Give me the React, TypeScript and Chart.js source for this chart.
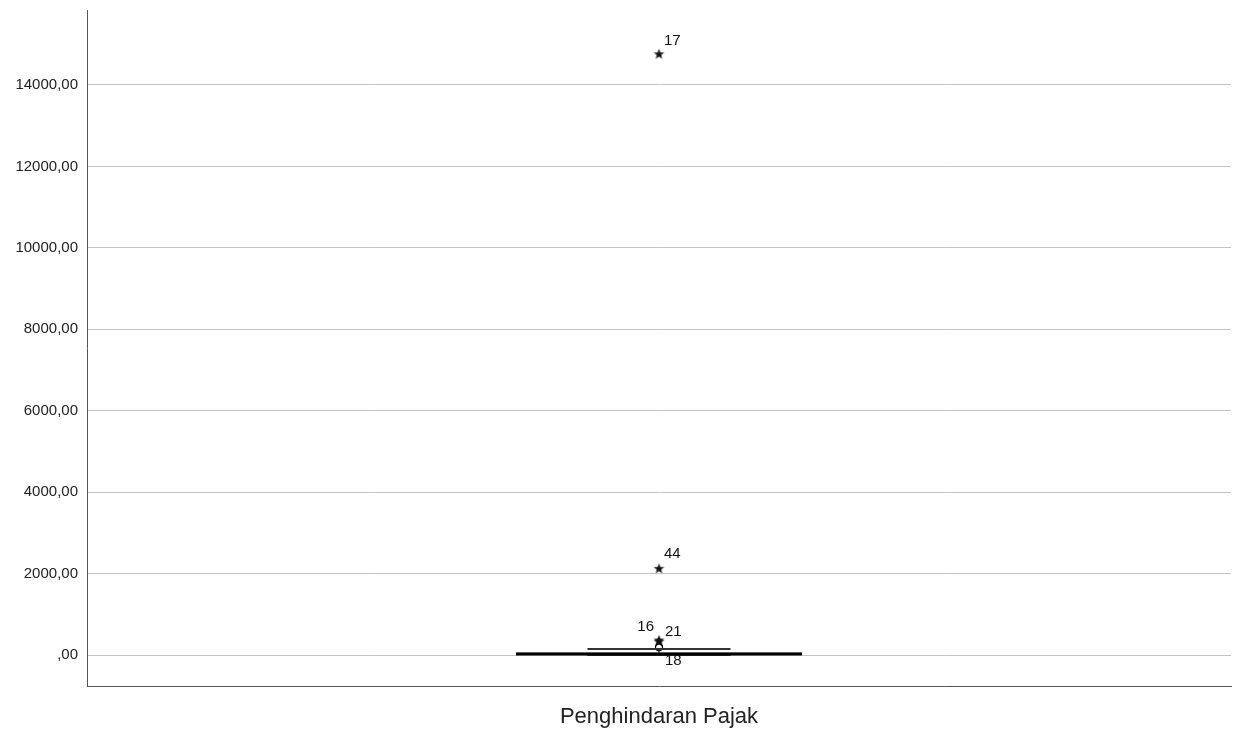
import React, { useEffect, useRef } from "react";
import { Chart, registerables } from "chart.js";

Chart.register(...registerables);

const categories = ["Penghindaran Pajak"];
const boxQ1 = [5];
const boxMedian = [25];
const boxQ3 = [60];
const whiskerLow = [0];
const whiskerHigh = [150];
const extremeValues = [14765, 2130, 370, 340];
const extremeIds = ["17", "44", "21", "16"];
const outlierValues = [190];
const outlierIds = ["18"];
const yTicks = [0, 2000, 4000, 6000, 8000, 10000, 12000, 14000];
const yMin = -760;
const yMax = 15840;

// label placement relative to the marker: [dx, dy, align]
const labelPlacement: Record<string, [number, number, CanvasTextAlign]> = {
  "17": [5, -13, "left"],
  "44": [5, -14, "left"],
  "21": [6, -8, "left"],
  "16": [-5, -14, "right"],
  "18": [6, 14, "left"],
};

const FONT = "'Liberation Sans', Arial, sans-serif";

function makeStar(): HTMLCanvasElement {
  const size = 13;
  const c = document.createElement("canvas");
  c.width = size;
  c.height = size;
  const g = c.getContext("2d")!;
  const cx = size / 2;
  const cy = size / 2 + 0.5;
  const outer = 5.6;
  const inner = 2.3;
  g.beginPath();
  for (let k = 0; k < 10; k++) {
    const r = k % 2 === 0 ? outer : inner;
    const a = -Math.PI / 2 + (k * Math.PI) / 5;
    const px = cx + r * Math.cos(a);
    const py = cy + r * Math.sin(a);
    if (k === 0) g.moveTo(px, py);
    else g.lineTo(px, py);
  }
  g.closePath();
  g.fillStyle = "#111";
  g.fill();
  return c;
}

const boxPlugin = {
  id: "boxExtras",
  afterDatasetsDraw(chart: any) {
    const ctx = chart.ctx;
    const y = chart.scales.y;
    const boxMeta = chart.getDatasetMeta(0);
    categories.forEach((_, i) => {
      const bar = boxMeta.data[i];
      if (!bar) return;
      const cx = bar.x;
      const halfW = bar.width / 2;
      const capHalf = halfW / 2;
      ctx.save();
      ctx.strokeStyle = "#000";
      ctx.lineWidth = 1;
      ctx.beginPath();
      ctx.moveTo(cx, y.getPixelForValue(boxQ3[i]));
      ctx.lineTo(cx, y.getPixelForValue(whiskerHigh[i]));
      ctx.moveTo(cx, y.getPixelForValue(boxQ1[i]));
      ctx.lineTo(cx, y.getPixelForValue(whiskerLow[i]));
      ctx.stroke();
      ctx.lineWidth = 2;
      ctx.strokeStyle = "#333";
      ctx.beginPath();
      ctx.moveTo(cx - capHalf, y.getPixelForValue(whiskerHigh[i]));
      ctx.lineTo(cx + capHalf, y.getPixelForValue(whiskerHigh[i]));
      ctx.moveTo(cx - capHalf, y.getPixelForValue(whiskerLow[i]));
      ctx.lineTo(cx + capHalf, y.getPixelForValue(whiskerLow[i]));
      ctx.stroke();
      ctx.lineWidth = 3;
      ctx.strokeStyle = "#000";
      ctx.beginPath();
      ctx.moveTo(cx - halfW, y.getPixelForValue(boxMedian[i]));
      ctx.lineTo(cx + halfW, y.getPixelForValue(boxMedian[i]));
      ctx.stroke();
      ctx.restore();
    });
    ctx.save();
    ctx.font = `15px ${FONT}`;
    ctx.fillStyle = "#111";
    ctx.textBaseline = "middle";
    const drawLabels = (dsIndex: number, ids: string[]) => {
      const meta = chart.getDatasetMeta(dsIndex);
      meta.data.forEach((pt: any, j: number) => {
        const id = ids[j];
        const p = labelPlacement[id] || [5, -12, "left"];
        ctx.textAlign = p[2];
        ctx.fillText(id, pt.x + p[0], pt.y + p[1]);
      });
    };
    drawLabels(1, extremeIds);
    drawLabels(2, outlierIds);
    ctx.restore();
  },
};

export default function App() {
  const canvasRef = useRef<HTMLCanvasElement>(null);

  useEffect(() => {
    const canvas = canvasRef.current;
    if (!canvas) return;
    const star = makeStar();
    const chart = new Chart(canvas, {
      type: "bar",
      data: {
        labels: categories,
        datasets: [
          {
            type: "bar",
            data: categories.map((_, i) => [boxQ1[i], boxQ3[i]]) as any,
            backgroundColor: "#ffffff",
            borderColor: "#000",
            borderWidth: 2,
            borderSkipped: false,
            barPercentage: 0.25,
            categoryPercentage: 1,
            order: 2,
          },
          {
            type: "line",
            data: extremeValues.map((v) => ({ x: categories[0], y: v })) as any,
            showLine: false,
            pointStyle: star as any,
            pointRadius: 6,
            order: 1,
          },
          {
            type: "line",
            data: outlierValues.map((v) => ({ x: categories[0], y: v })) as any,
            showLine: false,
            pointStyle: "circle",
            pointRadius: 3.5,
            pointBorderColor: "#000",
            pointBorderWidth: 1.2,
            pointBackgroundColor: "rgba(255,255,255,0)",
            order: 0,
          },
        ],
      },
      options: {
        animation: false,
        responsive: true,
        maintainAspectRatio: false,
        layout: { padding: { left: 0, right: 6, top: 10, bottom: 0 } },
        plugins: {
          legend: { display: false },
          tooltip: { enabled: false },
        },
        scales: {
          x: {
            type: "category",
            grid: { display: false, drawTicks: false },
            border: { display: true, color: "#555", width: 1 },
            ticks: {
              color: "#222",
              font: { family: FONT, size: 22 },
              padding: 18,
            },
            afterFit(scale: any) {
              scale.height = 45;
              scale.paddingLeft = 0;
              scale.paddingRight = 0;
            },
          },
          y: {
            min: yMin,
            max: yMax,
            grid: { color: "#c4c4c4", lineWidth: 1, drawTicks: false },
            border: { display: true, color: "#555", width: 1 },
            afterBuildTicks(scale: any) {
              scale.ticks = yTicks.map((v) => ({ value: v }));
            },
            ticks: {
              color: "#222",
              font: { family: FONT, size: 15 },
              padding: 9,
              callback: (v: any) =>
                Number(v) === 0 ? ",00" : Number(v).toFixed(2).replace(".", ","),
            },
            afterFit(scale: any) {
              scale.width = 87;
              scale.paddingTop = 0;
              scale.paddingBottom = 0;
            },
          },
        },
      },
      plugins: [boxPlugin],
    });
    return () => chart.destroy();
  }, []);

  return (
    <div
      style={{
        position: "fixed",
        left: 0,
        top: 0,
        width: 1238,
        height: 731,
        background: "#fff",
      }}
    >
      <canvas ref={canvasRef} />
    </div>
  );
}
